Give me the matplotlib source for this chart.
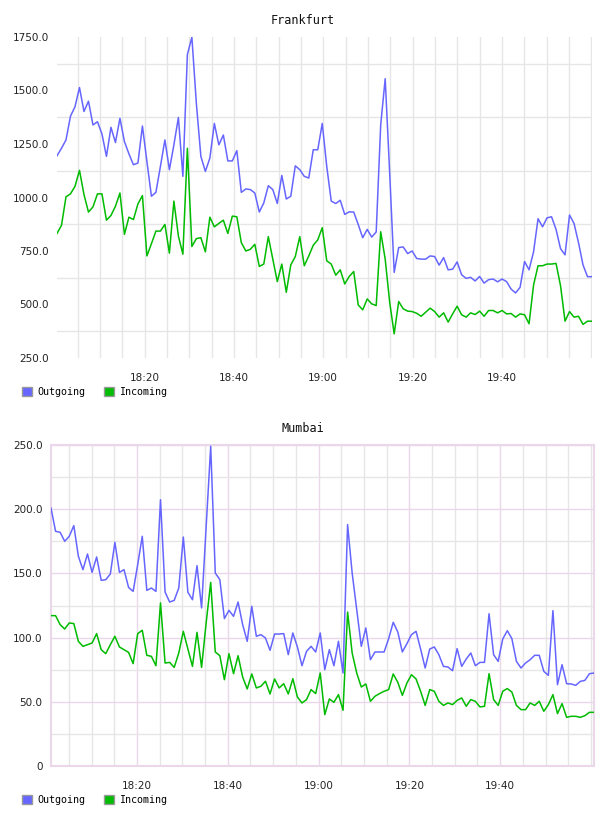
import numpy as np
import pandas as pd
import matplotlib
matplotlib.use('Agg')
import matplotlib.pyplot as plt
import matplotlib.dates as mdates
from matplotlib.patches import Patch

# Frankfurt, one sample per minute
fra_out = [1195, 1230, 1269, 1380, 1424, 1514, 1402, 1450, 1339, 1354,
           1297, 1192, 1328, 1257, 1370, 1261, 1204, 1153, 1161, 1334,
           1168, 1006, 1024, 1145, 1269, 1130, 1246, 1374, 1099, 1668,
           1749, 1439, 1192, 1122, 1184, 1346, 1246, 1292, 1171, 1171,
           1219, 1024, 1040, 1037, 1021, 932, 975, 1055, 1037, 972,
           1103, 993, 1006, 1148, 1130, 1099, 1091, 1223, 1223, 1346,
           1145, 983, 972, 987, 921, 933, 932, 874, 812, 851,
           815, 839, 1339, 1555, 1114, 650, 766, 769, 738, 750,
           715, 712, 712, 727, 724, 684, 719, 662, 665, 699,
           639, 622, 627, 610, 631, 600, 616, 619, 606, 619,
           607, 572, 554, 580, 701, 662, 746, 901, 863, 905,
           910, 851, 761, 732, 918, 879, 789, 685, 630, 630]
fra_in = [832, 870, 1003, 1017, 1052, 1127, 1014, 932, 956, 1017,
          1017, 894, 916, 959, 1021, 828, 908, 897, 970, 1009,
          727, 784, 843, 843, 874, 740, 983, 820, 735, 1230,
          771, 808, 812, 746, 908, 863, 879, 894, 832, 913,
          910, 789, 750, 758, 781, 678, 689, 817, 712, 607,
          689, 557, 685, 724, 817, 681, 727, 777, 802, 859,
          704, 689, 637, 662, 596, 631, 654, 498, 475, 526,
          503, 495, 840, 712, 510, 363, 514, 480, 469, 467,
          459, 445, 464, 483, 467, 441, 461, 418, 456, 492,
          452, 441, 461, 453, 469, 445, 472, 472, 461, 472,
          456, 458, 441, 456, 452, 410, 591, 681, 681, 689,
          689, 692, 588, 422, 467, 441, 445, 407, 422, 422]

# Mumbai, one sample per minute
mum_out = [200.9, 182.8, 182.0, 175.0, 178.9, 187.2, 163.3, 152.9, 165.1, 150.8,
           162.8, 144.6, 145.1, 149.5, 174.2, 150.8, 152.9, 139.1, 136.0, 156.8,
           178.9, 136.8, 138.6, 136.0, 207.4, 135.5, 127.7, 129.0, 138.6, 178.3,
           135.3, 129.5, 156.0, 123.1, 186.1, 249.0, 150.3, 145.1, 114.8, 121.2,
           116.6, 127.7, 110.1, 97.1, 124.4, 101.0, 102.3, 99.7, 90.1, 102.8,
           102.8, 103.1, 86.7, 103.6, 92.7, 78.1, 89.3, 93.2, 88.8, 103.6,
           75.0, 90.6, 78.1, 97.1, 72.4, 188.0, 150.3, 121.8, 93.2, 107.5,
           82.8, 88.8, 88.8, 88.8, 99.2, 111.9, 104.4, 88.8, 95.3, 102.3,
           104.9, 91.1, 76.3, 91.1, 92.7, 86.7, 77.6, 77.1, 74.2, 91.4,
           77.6, 83.3, 88.0, 78.1, 80.7, 80.7, 118.6, 86.7, 81.5, 98.9,
           105.4, 99.2, 81.5, 76.3, 80.2, 82.8, 86.2, 86.2, 73.7, 70.6,
           121.0, 63.3, 78.9, 64.1, 63.9, 62.8, 65.9, 66.7, 71.9, 72.4]
mum_in = [117.1, 117.1, 110.1, 106.7, 111.4, 110.9, 97.1, 93.2, 94.5, 95.8,
          103.1, 90.6, 87.5, 94.5, 101.0, 92.7, 90.6, 88.5, 79.7, 103.1,
          105.7, 86.2, 85.4, 78.1, 127.0, 80.2, 80.7, 76.8, 88.0, 104.9,
          91.1, 77.6, 104.1, 76.8, 111.4, 143.0, 88.8, 85.9, 67.2, 87.5,
          71.9, 85.9, 69.3, 60.0, 71.7, 60.8, 62.1, 66.0, 56.1, 67.8,
          60.8, 64.1, 56.1, 68.0, 53.7, 49.1, 51.7, 59.5, 56.4, 72.4,
          40.0, 52.2, 49.6, 55.6, 43.4, 119.9, 88.0, 72.4, 61.5, 63.9,
          50.4, 54.3, 56.4, 58.2, 59.5, 71.7, 65.2, 55.0, 64.6, 71.1,
          67.8, 58.2, 47.2, 59.5, 58.2, 50.4, 47.2, 49.1, 47.8, 51.1,
          53.0, 46.5, 51.7, 50.4, 46.0, 46.5, 71.9, 51.7, 47.2, 58.2,
          60.3, 57.6, 47.2, 43.9, 43.9, 49.1, 47.2, 50.4, 42.6, 47.8,
          55.6, 40.8, 48.6, 37.9, 38.7, 38.7, 37.9, 39.2, 41.8, 41.8]

series_names = ['Outgoing', 'Incoming']
xtick_labels = ['18:20', '18:40', '19:00', '19:20', '19:40']

fra_t = pd.date_range('2020-01-01 18:00:23', periods=len(fra_out), freq='60400ms')
mum_t = pd.date_range('2020-01-01 18:01:04', periods=len(mum_out), freq='60300ms')
xticks = pd.to_datetime(['2020-01-01 ' + s for s in xtick_labels])

BLUE = '#6666ff'
GREEN = '#00bb00'
GRAY = '#e6e6e6'
PURPLE = '#ead8ea'
W, H = 608, 816

fig = plt.figure(figsize=(W / 100, H / 100), dpi=100)


def draw(box, t, out, inc, ymin, ymax, ystep, fmt, title, legend_y, purple):
    l, r, top, bot = box
    ax = fig.add_axes([l / W, 1 - bot / H, (r - l) / W, (bot - top) / H])
    ax.plot(t, out, color=BLUE, lw=1.1, zorder=3)
    ax.plot(t, inc, color=GREEN, lw=1.1, zorder=3)
    ax.set_xlim(t[0], t[-1])
    ax.set_ylim(ymin, ymax)
    ax.set_xticks(xticks)
    ax.set_xticklabels(xtick_labels)
    ax.xaxis.set_minor_locator(mdates.MinuteLocator(byminute=range(0, 60, 5)))
    yt = np.arange(ymin, ymax + 1, ystep)
    ax.set_yticks(yt)
    ax.set_yticklabels([fmt(v) for v in yt])
    ax.set_yticks(yt[:-1] + ystep / 2, minor=True)
    ax.tick_params(which='both', length=0, labelsize=7.5, colors='#222222')
    ax.tick_params(axis='x', pad=11)
    ax.tick_params(axis='y', pad=6)
    ax.grid(which='minor', color=GRAY, lw=1, zorder=0)
    if purple:
        ax.grid(which='major', color=PURPLE, lw=1, zorder=1)
        for s in ax.spines.values():
            s.set_color(PURPLE)
            s.set_linewidth(1.5)
    else:
        ax.grid(which='major', axis='x', color=GRAY, lw=1, zorder=0)
        for s in ax.spines.values():
            s.set_visible(False)
    ax.set_axisbelow(True)
    fig.text(303 / W, 1 - (top - 17) / H, title, ha='center', va='center',
             family='DejaVu Sans Mono', fontsize=8.5, color='#111111')
    handles = [Patch(facecolor=BLUE, edgecolor='#999999', lw=1),
               Patch(facecolor=GREEN, edgecolor='#999999', lw=1)]
    fig.legend(handles, series_names, loc='center left',
               bbox_to_anchor=(22 / W, 1 - legend_y / H), ncol=2, frameon=False,
               prop={'family': 'DejaVu Sans Mono', 'size': 7.2},
               handlelength=1.0, handleheight=1.0, handletextpad=0.5,
               columnspacing=1.9, borderpad=0, borderaxespad=0)
    return ax


draw((57, 592, 37, 358), fra_t, fra_out, fra_in, 250, 1750, 250,
     lambda v: '%.1f' % v, 'Frankfurt', 392, False)
draw((51, 594, 445, 766), mum_t, mum_out, mum_in, 0, 250, 50,
     lambda v: '0' if v == 0 else '%.1f' % v, 'Mumbai', 800, True)

fig.savefig('out.png', dpi=100)
